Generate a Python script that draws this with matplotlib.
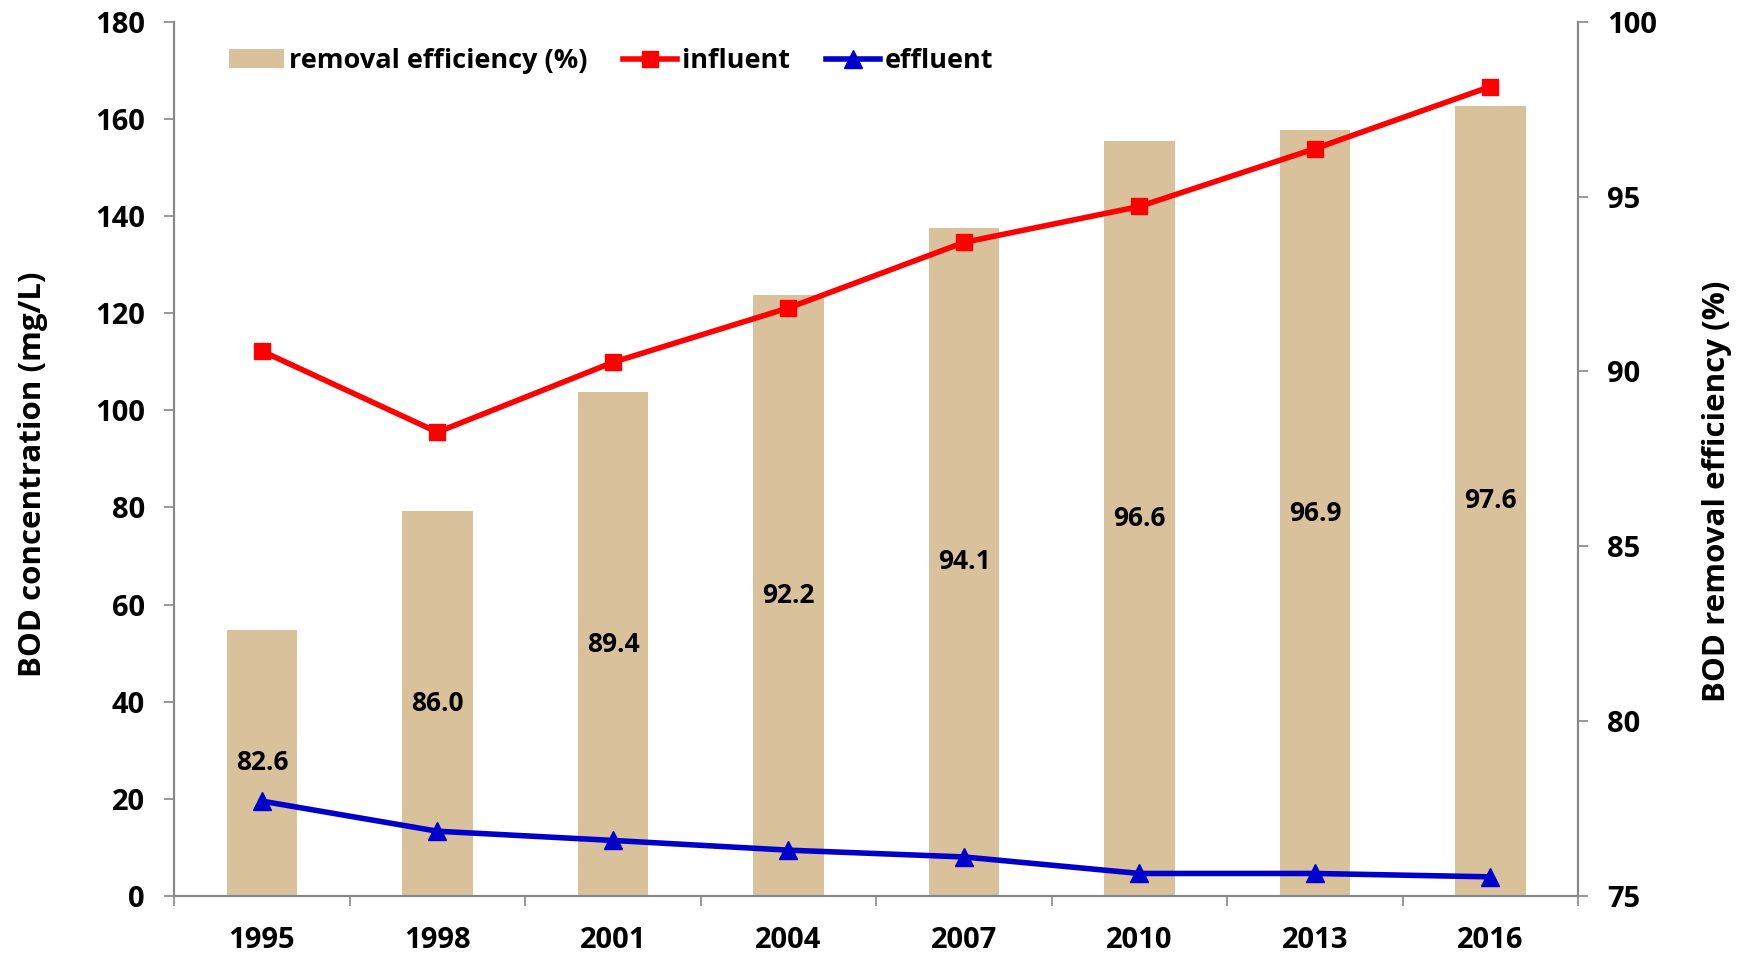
import numpy as np
import matplotlib
matplotlib.use("Agg")
import matplotlib.pyplot as plt
from matplotlib.patches import Patch
from matplotlib.lines import Line2D

years = ["1995", "1998", "2001", "2004", "2007", "2010", "2013", "2016"]
efficiency = [82.6, 86.0, 89.4, 92.2, 94.1, 96.6, 96.9, 97.6]
influent = [112.2, 95.5, 109.9, 121.1, 134.6, 142.0, 153.9, 166.7]
effluent = [19.5, 13.3, 11.4, 9.4, 8.0, 4.6, 4.6, 3.9]

plt.rcParams["font.family"] = ["Open Sans", "DejaVu Sans"]
plt.rcParams["font.weight"] = "bold"

bar_color = "#d9c19b"
axis_gray = "#878787"

fig = plt.figure(figsize=(17.42, 9.55), dpi=100)
ax1 = fig.add_axes([0.100, 0.062, 0.806, 0.915])
ax2 = ax1.twinx()
ax1.set_zorder(ax2.get_zorder() + 1)
ax1.patch.set_visible(False)

x = np.arange(len(years))

# bars: removal efficiency on right axis
ax2.bar(x, np.array(efficiency) - 75, bottom=75, width=0.40, color=bar_color, zorder=1)
for xi, v in zip(x, efficiency):
    ax2.text(xi, (75 + v) / 2, '{:.1f}'.format(v), ha="center", va="center",
             fontsize=19, fontweight="bold", color="black")
ax2.set_ylim(75, 100)
ax2.set_yticks([75, 80, 85, 90, 95, 100])

# lines: influent / effluent on left axis
ax1.plot(x, influent, color="#ff0000", lw=4, marker="s", markersize=12, zorder=5)
ax1.plot(x, effluent, color="#0000cc", lw=4, marker="^", markersize=13, zorder=5)
ax1.set_ylim(0, 180)
ax1.set_yticks(np.arange(0, 181, 20))
ax1.set_xlim(-0.5, len(years) - 0.5)
ax1.set_xticks(x)
ax1.set_xticklabels(years)
ax1.set_xticks(np.arange(-0.5, len(years)), minor=True)
ax1.tick_params(axis="x", which="major", length=0, pad=22)
ax1.tick_params(axis="x", which="minor", length=7, color=axis_gray, width=1.2)

for ax in (ax1, ax2):
    ax.spines["top"].set_visible(False)
    for side in ("left", "right", "bottom"):
        ax.spines[side].set_color(axis_gray)
        ax.spines[side].set_linewidth(1.5)
    ax.tick_params(axis="y", length=7, color=axis_gray, width=1.2, labelsize=21, pad=14)
    ax.tick_params(axis="x", labelsize=21)
    for lab in ax.get_yticklabels() + ax.get_xticklabels():
        lab.set_fontweight("bold")

ax1.set_ylabel("BOD concentration (mg/L)", fontsize=22.5, fontweight="bold")
ax2.set_ylabel("BOD removal efficiency (%)", fontsize=22.5, fontweight="bold")
ax1.yaxis.set_label_coords(-0.09, 0.482)
ax2.yaxis.set_label_coords(1.088, 0.463)

handles = [
    Patch(facecolor=bar_color, edgecolor="none"),
    Line2D([], [], color="#ff0000", lw=4, marker="s", markersize=12),
    Line2D([], [], color="#0000cc", lw=4, marker="^", markersize=13),
]
labels = ["removal efficiency (%)", "influent", "effluent"]
leg = ax1.legend(handles, labels, loc="upper left", bbox_to_anchor=(0.022, 0.998), ncol=3,
                 frameon=False, handlelength=2.0, handletextpad=0.2,
                 columnspacing=1.3, prop={"weight": "bold", "size": 19.5})

fig.savefig("out.png", dpi=100)
